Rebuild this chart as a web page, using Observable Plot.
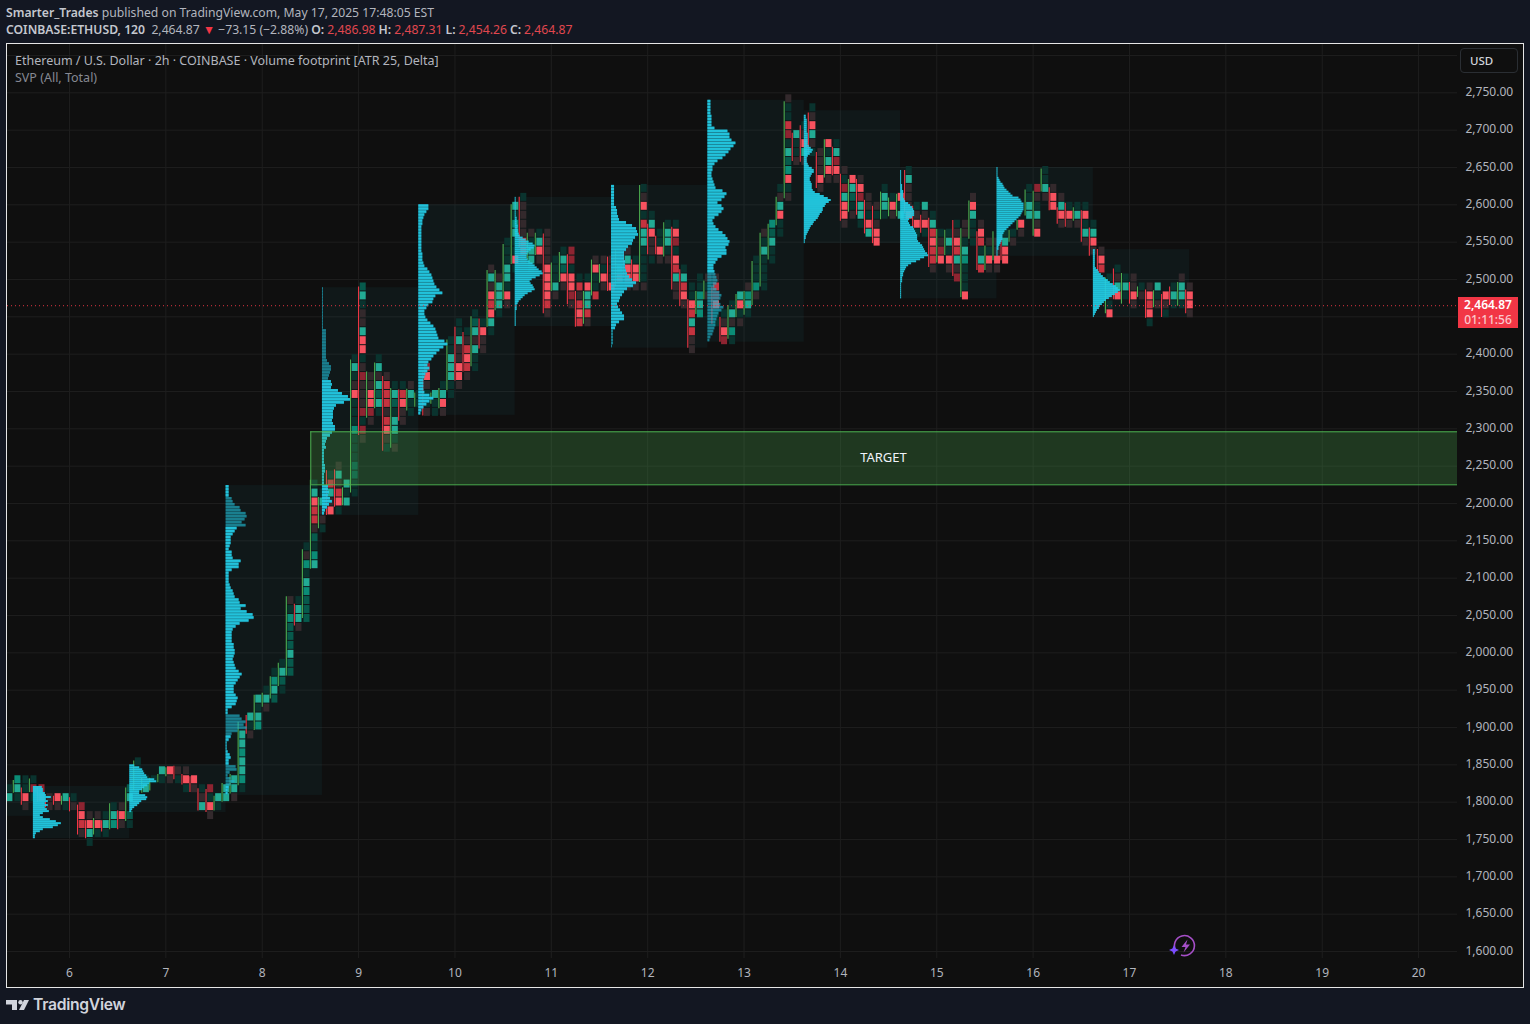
<!DOCTYPE html>
<html><head><meta charset="utf-8">
<script src="https://cdn.jsdelivr.net/npm/d3@7"></script>
<script src="https://cdn.jsdelivr.net/npm/@observablehq/plot@0.6"></script>
<style>
html,body{margin:0;padding:0;background:#131722;width:1530px;height:1024px;overflow:hidden;font-family:"Noto Sans",sans-serif;color:#b2b5be}
#hd{position:absolute;left:6px;top:0;height:43px;font-size:12.2px;line-height:17px;white-space:nowrap;padding-top:4px;box-sizing:border-box}
#hd b{font-weight:600;color:#c4c7cf}
#hd .r{color:#e0474f;margin-left:3px;margin-right:3px}
#box{position:absolute;left:6px;top:43px;width:1516px;height:943px;border:1px solid #e6e6e6;background:#0f0f0f;overflow:hidden}
#box svg.plot{display:block}
.ov{position:absolute;white-space:nowrap}
</style></head><body>
<div id="hd"><div><b>Smarter_Trades</b> published on TradingView.com, May 17, 2025 17:48:05 EST</div>
<div><b>COINBASE:ETHUSD, 120</b>&nbsp; 2,464.87 <span style="color:#f23645">▼</span> −73.15 (−2.88%) <b>O:</b><span class="r">2,486.98</span><b>H:</b><span class="r">2,487.31</span><b>L:</b><span class="r">2,454.26</span><b>C:</b><span class="r">2,464.87</span></div></div>
<div id="box"></div>
<svg class="ov" style="left:6px;top:997px" width="24" height="16" viewBox="0 0 24 16"><path fill="#d1d4dc" d="M0 3h11v10H6V7.5H0z"/><circle cx="14.5" cy="5.2" r="2.2" fill="#d1d4dc"/><path fill="#d1d4dc" d="M18 3h5l-5 10h-5z"/></svg>
<div class="ov" style="left:33px;top:995px;font-family:Inter,sans-serif;font-weight:600;font-size:15.7px;color:#d1d4dc;letter-spacing:-.3px">TradingView</div>
<script>
// ---- axes ----
const dayTicks = [6,7,8,9,10,11,12,13,14,15,16,17,18,19,20];
const priceTicks = [1600,1650,1700,1750,1800,1850,1900,1950,2000,2050,2100,2150,2200,2250,2300,2350,2400,2450,2500,2550,2600,2650,2700,2750];
const priceLabels = priceTicks.filter(p => p !== 2450);
const gridPrices = [...priceTicks, 2800];
const lastPrice = 2464.87;
const targetLow = 2225, targetHigh = 2296, targetStart = 8.504, targetLabelDay = 14.447, targetLabelPrice = 2261;

// ---- footprint: bar number (2h bars after day 6), price at the centre of the first row (row = 12 USD), cell shades top to bottom
const footprint = [
[-8,1818,"DA"],[-7,1830,"BAD"],[-6,1830,"DDru"],[-5,1830,"DtD"],[-4,1818,"ts"],[-3,1806,"uu"],[-2,1806,"ru"],[-1,1806,"AD"],[0,1806,"Du"],
[1,1794,"trsu"],[2,1782,"urAD"],[3,1782,"urD"],[4,1782,"DAD"],[5,1794,"DAB"],[6,1794,"uru"],[7,1818,"CA.CD"],[8,1854,"DDDD"],[9,1830,"DA"],[10,1830,"D"],
[11,1842,"AD"],[12,1842,"ru"],[13,1842,"uD"],[14,1842,"urD"],[15,1830,"ru"],[16,1818,"DuA"],[17,1818,"tDru"],[18,1806,"AD"],[19,1818,"AA"],[20,1830,"AAu"],
[21,1890,"AABAABD"],[22,1914,"ADu"],[23,1938,"ADAB"],[24,1950,"DAu"],[25,1974,"DBAC"],[26,1986,"DACD"],[27,2070,"uDBCCCACC"],[28,2070,"DAAu"],[29,2142,"DuBDABCCC"],
[30,2226,"DArssuCDBA"],[31,2214,"DAuuD"],[32,2238,"DsAur"],[33,2250,"uAusrD"],[34,2226,"ADA"],[35,2394,"DADurDDDBDDDCCDD"],[36,2490,"CADuuArrDutuuutDtu"],
[37,2370,"uurrtu"],[38,2394,"DAuACAD"],[39,2370,"usssusruD"],[40,2358,"DACDAADu"],[41,2358,"Dsruu"],[42,2358,"uADD"],[43,2346,"DD"],[44,2382,"truDDu"],
[45,2346,"ADD"],[46,2358,"DAru"],[47,2418,"DDAAADD"],[48,2442,"DDAuurru"],[49,2430,"Dusrsu"],[50,2454,"DCAuADD"],[51,2442,"Druu"],[52,2514,"uAursrAD"],[53,2502,"uAAAD"],
[54,2550,"DDDAADru"],[55,2598,"ADBADDrD"],[56,2610,"Duuuussu"],[57,2562,"uDAAD"],[58,2562,"DAru"],[59,2562,"uuuurrrrsu"],[60,2526,"DDDAu"],[61,2538,"DACru"],
[62,2538,"ttDrrtu"],[63,2502,"Dsusrs"],[64,2502,"DrAAsu"],[65,2526,"urDDs"],[66,2526,"uDru"],[67,2526,"uuur"],[68,2538,"DDArD"],[69,2538,"uArru"],[70,2526,"Drru"],
[71,2622,"DurDsAADDDDu"],[72,2586,"DAruuD"],[73,2562,"DDru"],[74,2574,"DAADu"],[75,2574,"DrtDrsAuu"],[76,2514,"DAsru"],[77,2490,"DDrsAsuu"],[78,2502,"DDBAB"],
[79,2502,"uDu"],[80,2502,"ustrDD"],[81,2454,"Durt"],[82,2466,"DAuBD"],[83,2478,"ArDu"],[84,2490,"uBAD"],[85,2526,"DDDBu"],[86,2562,"uDADDDD"],[87,2574,"BCADD"],
[88,2622,"DuArDD"],[89,2742,"uDDstDACBrDu"],[90,2694,"ADDu"],[91,2706,"DurAu"],[92,2730,"DurAuD"],[93,2670,"uuuru"],[94,2682,"rDAru"],[95,2682,"DAtru"],
[96,2646,"uDtArru"],[97,2634,"rACDu"],[98,2634,"urtAAD"],[99,2610,"uuDrA"],[100,2598,"uDurr"],[101,2622,"DAAD"],[102,2610,"Dru"],[103,2610,"rDA"],[104,2646,"DAuuur"],
[105,2598,"DurD"],[106,2598,"AurD"],[107,2586,"DAsrssu"],[108,2562,"Dutr"],[109,2562,"DADru"],[110,2574,"DursAut"],[111,2574,"uuDABDDDr"],[112,2610,"urADDD"],
[113,2574,"ursDAs"],[114,2550,"uDru"],[115,2550,"uuru"],[116,2562,"DArr"],[117,2562,"Du"],[118,2574,"ru"],[119,2622,"DDAA"],[120,2622,"tuDAur"],[121,2646,"DDAu"],
[122,2622,"urr"],[123,2610,"uAru"],[124,2598,"Dru"],[125,2598,"DAu"],[126,2598,"DrDAu"],[127,2574,"DAru"],[128,2538,"urs"],[129,2502,"DDuDr"],[130,2514,"DuAr"],
[131,2502,"DAD"],[132,2502,"uuru"],[133,2490,"Du"],[134,2490,"ursrD"],[135,2490,"ADu"],[136,2478,"ruD"],[137,2490,"DAD"],[138,2502,"uAAD"],[139,2490,"urru"]
];
// ---- thin range lines: bar number, high, low, direction
const wicks = [
[-7,1829,1812,"u"],[-6,1819,1796,"d"],[-5,1831,1813,"u"],[-4,1820,1800,"d"],[-3,1800,1792,"d"],[-2,1808,1796,"d"],[-1,1808,1796,"u"],[0,1806,1787,"d"],
[1,1796,1756,"d"],[2,1775,1751,"d"],[3,1778,1756,"u"],[4,1775,1760,"d"],[5,1798,1763,"u"],[6,1788,1763,"d"],[7,1819,1774,"u"],[8,1855,1815,"u"],[9,1832,1812,"u"],[10,1832,1815,"u"],
[11,1837,1826,"u"],[12,1846,1834,"u"],[13,1848,1830,"d"],[14,1837,1823,"d"],[15,1834,1813,"d"],[16,1818,1788,"d"],[17,1817,1786,"d"],[18,1808,1788,"u"],[19,1825,1800,"u"],[20,1837,1811,"u"],
[21,1907,1822,"u"],[22,1916,1891,"d"],[23,1943,1896,"u"],[24,1946,1927,"u"],[25,1968,1938,"u"],[26,1986,1955,"u"],[27,2075,1969,"u"],[28,2065,2036,"d"],[29,2138,2046,"u"],
[30,2231,2112,"u"],[31,2208,2166,"u"],[32,2244,2184,"d"],[33,2245,2195,"d"],[34,2221,2197,"u"],[35,2392,2214,"u"],[36,2490,2291,"d"],[37,2376,2314,"u"],[38,2388,2327,"u"],
[39,2370,2270,"d"],[40,2354,2274,"u"],[41,2352,2310,"d"],[42,2353,2324,"u"],[43,2348,2329,"u"],[44,2376,2317,"d"],[45,2348,2333,"u"],[46,2354,2327,"u"],[47,2419,2351,"u"],
[48,2436,2364,"d"],[49,2429,2376,"d"],[50,2450,2383,"u"],[51,2447,2407,"d"],[52,2512,2436,"u"],[53,2512,2458,"u"],[54,2547,2472,"u"],[55,2600,2520,"u"],[56,2610,2543,"d"],
[57,2562,2526,"u"],[58,2562,2532,"u"],[59,2561,2454,"d"],[60,2522,2484,"u"],[61,2536,2496,"u"],[62,2533,2466,"d"],[63,2484,2436,"d"],[64,2484,2440,"u"],[65,2526,2478,"u"],
[66,2520,2495,"u"],[67,2530,2484,"d"],[68,2540,2490,"u"],[69,2538,2502,"d"],[70,2526,2494,"d"],[71,2626,2496,"u"],[72,2574,2533,"d"],[73,2558,2533,"d"],[74,2576,2530,"u"],
[75,2570,2486,"d"],[76,2513,2464,"d"],[77,2473,2408,"d"],[78,2484,2453,"u"],[79,2498,2473,"u"],[80,2490,2440,"d"],[81,2449,2416,"d"],[82,2465,2420,"u"],[83,2480,2449,"u"],
[84,2484,2452,"u"],[85,2524,2465,"u"],[86,2562,2490,"u"],[87,2574,2526,"u"],[88,2610,2572,"u"],[89,2738,2608,"u"],[90,2696,2658,"d"],[91,2706,2657,"d"],[92,2723,2668,"d"],
[93,2670,2622,"d"],[94,2687,2636,"u"],[95,2677,2639,"d"],[96,2641,2578,"d"],[97,2634,2590,"u"],[98,2634,2586,"d"],[99,2606,2561,"d"],[100,2598,2548,"d"],[101,2617,2580,"u"],
[102,2609,2584,"u"],[103,2614,2584,"u"],[104,2646,2588,"d"],[105,2598,2568,"d"],[106,2586,2562,"d"],[107,2582,2516,"d"],[108,2567,2522,"u"],[109,2566,2532,"u"],[110,2579,2504,"d"],
[111,2568,2476,"u"],[112,2605,2554,"u"],[113,2564,2512,"d"],[114,2545,2512,"u"],[115,2564,2525,"u"],[116,2560,2525,"d"],[117,2566,2550,"u"],[118,2579,2566,"u"],[119,2620,2585,"u"],
[120,2618,2558,"u"],[121,2648,2617,"u"],[122,2623,2592,"d"],[123,2596,2574,"d"],[124,2602,2570,"d"],[125,2596,2578,"u"],[126,2592,2550,"d"],[127,2569,2531,"d"],[128,2540,2510,"d"],
[129,2502,2454,"u"],[130,2514,2473,"d"],[131,2508,2467,"u"],[132,2496,2467,"d"],[133,2490,2476,"u"],[134,2486,2448,"d"],[135,2485,2462,"u"],[136,2480,2449,"d"],[137,2490,2465,"d"],
[138,2496,2464,"u"],[139,2486,2454,"d"]
];
// ---- sessions ----
const sessionStart  = [5.3566,5.625,6.625,7.625,8.625,9.625,10.625,11.625,12.625,13.625,14.625,15.625,16.625];
const sessionEnd    = [5.625,6.625,7.625,8.625,9.625,10.625,11.625,12.625,13.625,14.625,15.625,16.625,17.625];
const sessionTop    = [1829,1821,1850,2224,2489,2600,2610,2626,2740,2726,2650,2650,2540];
const sessionBottom = [1781,1751,1786,1809,2184,2318,2437,2408,2416,2548,2474,2531,2449];
const profileTop    = [null,1821,1850,2224,2489,2600,2610,2626,2740,2720,2646,2650,2540];
const profileBottom = [null,1751,1786,1809,2184,2318,2437,2408,2416,2548,2474,2531,2449];
// ---- session volume profiles, top row to bottom row
const prof1 = [9,10,10,12,13,18,13,15,12,15,12,14,16,10,7,10,17,23,28,25,20,10,7,3,2,2];
const prof2 = [5,10,13,14,15,17,18,25,27,20,18,15,13,10,10,16,18,17,12,10,8,5,3,2];
const prof3 = [3,3,3,3,6,7,9,14,15,20,21,19,16,20,11,9,7,5,5,5,4,3,6,6,7,15,13,13,6,3,3,3,3,4,5,7,8,9,13,14,20,15,21,27,28,23,14,10,7,6,6,6,6,8,8,9,9,8,7,8,9,10,13,16,14,12,10,8,8,8,10,12,11,10,6,2,2,14,16,20,18,21,12,6,5,3,1,1,1,2,4,5,3,3,10,11,4,2,5,9,5,3,2,2];
const prof4 = [1,1,1,1,1,1,1,1,1,1,1,1,1,1,4,4,4,4,4,4,4,4,4,4,5,7,9,9,8,7,6,9,10,9,16,20,26,28,22,14,12,11,11,11,10,11,13,13,10,8,5,4,3,4,2,2,2,2,2,3,3,3,2,2,2,2,6,6,7,6,8,10,7,5,3,2];
const prof5 = [10,10,8,6,5,4,4,3,3,3,3,3,3,3,3,3,4,4,4,5,6,9,11,13,14,15,16,18,21,24,17,15,14,10,8,6,6,7,9,12,15,17,18,19,20,26,29,25,21,18,15,13,10,9,11,9,7,6,5,5,5,5,6,11,15,11,8,5,3,2];
const prof6 = [1,1,1,1,1,1,1,1,1,1,2,2,2,2,3,3,3,3,4,5,8,11,14,18,20,19,16,14,13,12,12,13,15,18,20,22,24,27,28,25,21,17,15,16,18,19,20,17,13,10,8,6,4,3,2,2,2,1,1,1,1,1,1,1,1];
const prof7 = [3,3,3,3,3,3,3,5,6,6,7,8,15,21,25,26,27,24,22,21,17,15,13,13,13,14,14,14,15,16,18,21,25,22,16,13,11,9,8,6,7,9,11,13,13,8,5,4,2,2,2,2,2,1];
const prof8 = [3,3,3,3,3,4,4,4,4,7,20,22,22,24,28,26,23,21,18,15,10,7,5,5,4,4,5,6,7,8,15,19,17,14,10,14,16,14,11,7,5,6,8,11,15,18,20,22,21,18,19,19,14,10,8,6,6,7,8,9,10,9,7,9,12,14,13,11,13,16,14,11,10,9,8,8,7,6,5,3,2];
const prof9 = [2,2,3,3,3,3,3,3,3,4,4,4,4,4,4,5,7,9,8,6,4,3,3,3,4,5,8,10,10,8,7,6,6,7,8,8,8,9,11,16,20,24,27,25,22,21,19,19,18,16,15,14,12,10,9,7,6,5,4,3,2,2,1,1];
const prof10 = [1,1,1,1,1,1,1,2,2,2,3,3,3,3,4,5,8,10,12,13,14,14,14,12,9,8,9,10,13,14,15,16,17,17,17,18,20,22,23,24,25,27,28,24,20,16,11,8,6,5,4,3,3,2,2,2,1,1,1,1,1,1,1,1];
const prof11 = [1,1,1,1,1,2,3,4,6,7,8,10,12,14,16,22,24,25,27,27,27,27,26,25,24,22,20,18,16,14,12,10,8,7,6,6,6,5,4,3,2,2,1,1,1];
const prof12 = [2,2,2,2,2,2,2,2,2,3,5,6,8,10,12,15,17,20,23,25,27,25,22,19,16,13,11,9,7,6,4,3,2,1];
const profiles = [null,prof1,prof2,prof3,prof4,prof5,prof6,prof7,prof8,prof9,prof10,prof11,prof12];
const stripedSessions = [3,4,5,7,8];
// rows of a profile drawn fainter: session, first row, last row
const faintRows = [[3,4,13],[3,77,83],[3,94,100],[4,0,30],[8,58,80],[7,48,53]];
const volumePerDay = 96.36;

const shade = {A:"#22ab94",B:"#0b8c76",C:"#075a4c",D:"#0a332e",r:"#f7525f",s:"#c4333f",t:"#8e2431",u:"#33292c"};
const wickColor = {u:"#4caf50",d:"#f23645"};
const rowSize = 12;
const barDays = 1/12;
const barDay = i => 6 + i*barDays;

const cells = footprint.flatMap(([i,first,s]) => [...s].map((c,r)=>({t:barDay(i),p:first-r*rowSize,c})).filter(d=>d.c!=="."));
const wickRows = wicks.map(([i,hi,lo,dir])=>({t:barDay(i),hi,lo,dir}));
const sessions = sessionStart.map((s,j)=>({s,e:sessionEnd[j],top:sessionTop[j],bot:sessionBottom[j]}));
const profRows = profiles.flatMap((vals,j)=>{
  if(!vals) return [];
  const h=(profileTop[j]-profileBottom[j])/vals.length;
  return vals.map((v,r)=>({j,r,x1:sessionStart[j],x2:sessionStart[j]+v/volumePerDay,y2:profileTop[j]-r*h,y1:profileTop[j]-(r+1)*h,
    faint:faintRows.some(f=>f[0]===j&&r>=f[1]&&r<=f[2])}));
});
const profFill = "#23cbe4";
const grid = "#1e1e1e";
const tick = "#b2b5be";

const chart = Plot.plot({
  width:1516,height:943,
  marginLeft:0,marginRight:66,marginTop:0,marginBottom:29,
  x:{type:"linear",domain:[5.3566,20.404],range:[0,1450]},
  y:{type:"linear",domain:[1590.6,2814.7],range:[914,0]},
  style:{background:"#0f0f0f",fontFamily:'"Noto Sans",sans-serif',fontSize:"12px",color:tick},
  marks:[
    Plot.gridX(dayTicks,{x:d=>d,stroke:grid,strokeOpacity:1}),
    Plot.ruleY(gridPrices,{y:d=>d,stroke:grid,strokeOpacity:1}),
    Plot.rect(sessions,{x1:"s",x2:"e",y1:"bot",y2:"top",fill:"#26c6da",fillOpacity:0.05}),
    Plot.ruleX(wickRows,{x:"t",y1:"lo",y2:"hi",stroke:d=>wickColor[d.dir],strokeWidth:1.1,clip:true}),
    Plot.rect(cells,{x1:"t",x2:d=>d.t+barDays,y1:d=>d.p-rowSize/2,y2:d=>d.p+rowSize/2,fill:d=>shade[d.c],insetLeft:1.6,insetRight:0.4,insetTop:0.5,insetBottom:0.5,clip:true}),
    Plot.rect(profRows.filter(d=>!stripedSessions.includes(d.j)),{x1:"x1",x2:"x2",y1:"y1",y2:"y2",fill:profFill,fillOpacity:d=>d.faint?0.6:0.95}),
    Plot.rect(profRows.filter(d=>stripedSessions.includes(d.j)),{x1:"x1",x2:"x2",y1:"y1",y2:"y2",fill:"#1c8fa3",fillOpacity:d=>d.faint?0.45:0.8}),
    Plot.rect(profRows.filter(d=>stripedSessions.includes(d.j)),{x1:"x1",x2:"x2",y1:"y1",y2:"y2",fill:profFill,fillOpacity:d=>d.faint?0.4:0.9,insetBottom:0.6}),
    Plot.rect([0],{x1:targetStart,x2:20.404,y1:targetLow,y2:targetHigh,fill:"#4caf50",fillOpacity:0.26}),
    Plot.ruleY([targetLow,targetHigh],{x1:targetStart,x2:20.404,y:d=>d,stroke:"#4caf50",strokeWidth:1}),
    Plot.ruleX([targetStart],{y1:targetLow,y2:targetHigh,x:d=>d,stroke:"#4caf50",strokeWidth:1}),
    Plot.text(["TARGET"],{x:targetLabelDay,y:targetLabelPrice,text:d=>d,fill:"#f0f3fa",fontSize:13}),
    Plot.ruleY([lastPrice],{x1:5.3566,x2:20.404,y:d=>d,stroke:"#f23645",strokeDasharray:"1,3",strokeOpacity:.9}),
    Plot.axisY({anchor:"right",ticks:priceLabels,tickSize:0,tickPadding:8,dy:-0.7,label:null,tickFormat:d3.format(",.2f"),fill:tick,fontSize:12}),
    Plot.axisX({anchor:"bottom",ticks:dayTicks,tickSize:0,tickPadding:10,label:null,tickFormat:d=>String(d),fill:tick,fontSize:12})
  ]
});
const box = document.getElementById("box");
box.appendChild(chart);
const overlay = html => { const t=document.createElement("div"); t.innerHTML=html; while(t.firstChild) box.appendChild(t.firstChild); };
overlay(`<div class="ov" style="left:8px;top:8px;font-size:12.5px;color:#b2b5be">Ethereum / U.S. Dollar · 2h · COINBASE · Volume footprint [ATR 25, Delta]</div>
<div class="ov" style="left:8px;top:25px;font-size:12.5px;color:#868993">SVP (All, Total)</div>
<div class="ov" style="left:1453px;top:4px;width:58px;height:25px;border:1.5px solid #2a2e33;border-radius:4px;box-sizing:border-box;font-size:11.5px;font-weight:500;color:#d1d4dc;line-height:24px;padding-left:9px">USD</div>
<div class="ov" style="left:1451px;top:253px;width:60px;height:31px;background:#f23645;text-align:center;line-height:14.5px;font-size:12px;padding-top:1px;box-sizing:border-box;color:#fff;font-weight:600">2,464.87<br><span style="color:#fbc8cd;font-weight:500">01:11:56</span></div>
<svg class="ov" style="left:1160px;top:888px" width="34" height="28" viewBox="0 0 34 28">
<path d="M9 19A10 10 0 1 1 14 23" fill="none" stroke="#a64fc8" stroke-width="1.6"/>
<path d="M20.5 7.5L14.5 15h4l-2 5.5 6.5-8h-4z" fill="#a64fc8"/>
<path d="M7 13l1.6 3.4L12 18l-3.4 1.6L7 23l-1.6-3.4L2 18l3.4-1.6z" fill="#7c4dff"/></svg>`);
</script>
</body></html>
